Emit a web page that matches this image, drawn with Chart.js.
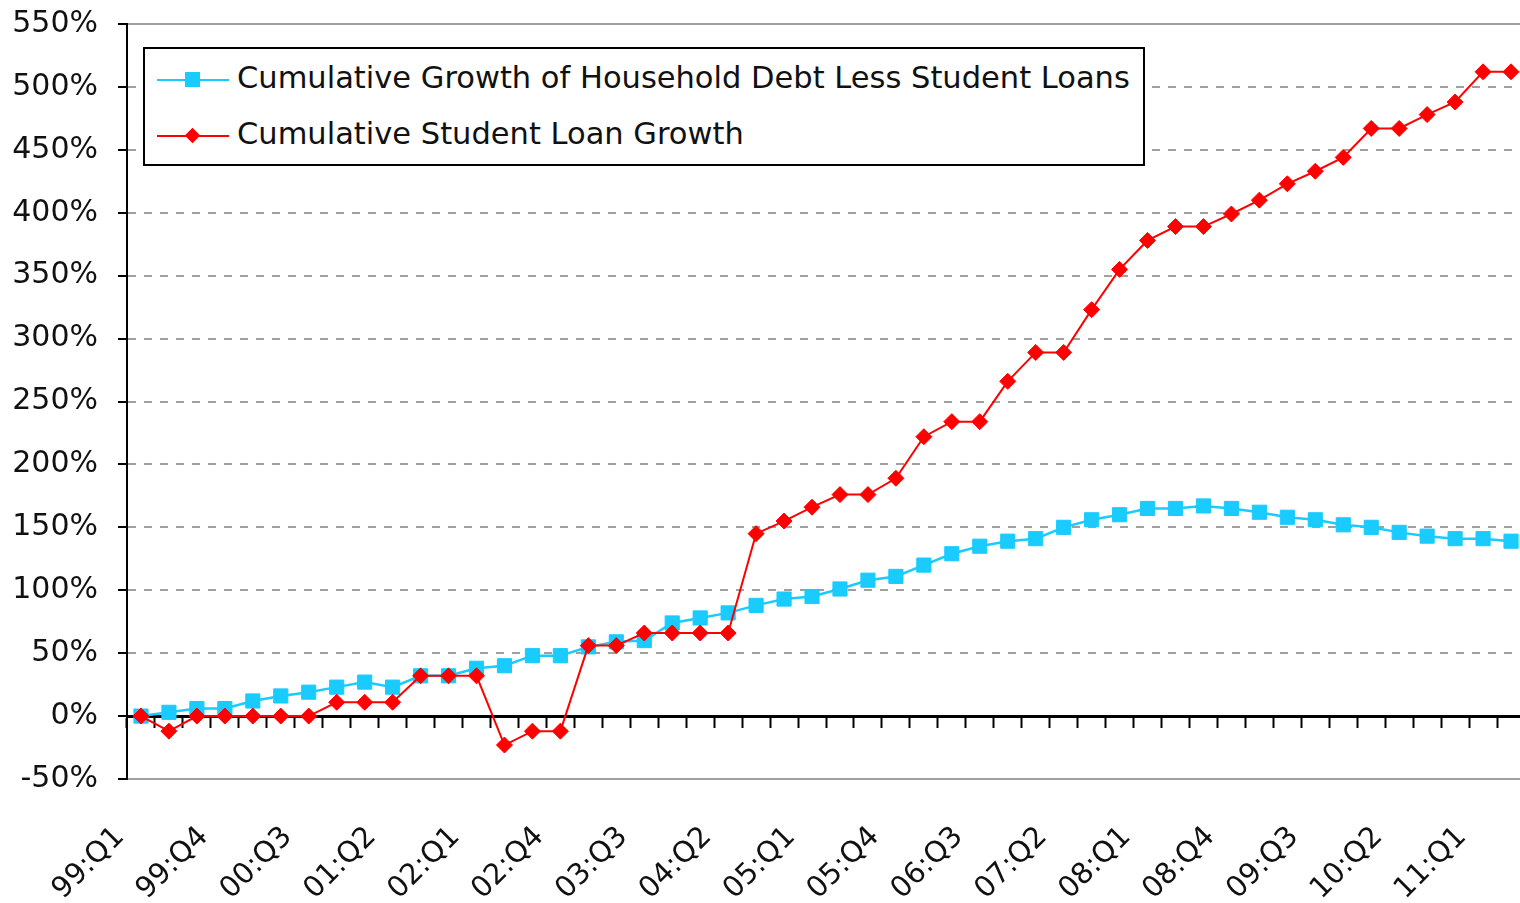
<!DOCTYPE html>
<html>
<head>
<meta charset="utf-8">
<title>Cumulative Student Loan Growth</title>
<script src="https://cdn.jsdelivr.net/npm/chart.js@4.4.1/dist/chart.umd.min.js"></script>
<style>
  html, body { margin: 0; padding: 0; background: #fff; overflow: hidden; }
  #wrap { position: relative; width: 1520px; height: 903px; overflow: hidden; }
  #chart { position: absolute; left: 0; top: 0; }
  #legend {
    position: absolute; left: 143px; top: 47px; width: 1002px; height: 119px;
    box-sizing: border-box; border: 2px solid #000; background: #fff;
    font-family: "DejaVu Sans", sans-serif; font-size: 30.5px; color: #111;
  }
  .row { position: absolute; left: 0; width: 100%; height: 40px; }
  .row .line { position: absolute; left: 12px; width: 72px; height: 2px; top: 19px; }
  .row .mark { position: absolute; }
  .row .txt { position: absolute; left: 92px; top: 0; line-height: 36px; white-space: nowrap; }
</style>
</head>
<body>
<div id="wrap">
  <canvas id="chart" width="1536" height="903"></canvas>
  <div id="legend">
    <div class="row" style="top: 11px;">
      <div class="line" style="background:#19cbff;"></div>
      <div class="mark" style="left:40px; top:12px; width:15px; height:15px; background:#19cbff;"></div>
      <div class="txt">Cumulative Growth of Household Debt Less Student Loans</div>
    </div>
    <div class="row" style="top: 67px;">
      <div class="line" style="background:#ff0000;"></div>
      <div class="mark" style="left:42px; top:14px; width:11px; height:11px; background:#ff0000; transform: rotate(45deg);"></div>
      <div class="txt">Cumulative Student Loan Growth</div>
    </div>
  </div>
</div>
<script>
// quarters 1999 Q1 .. 2011 Q2
const quarters = [
    '99:Q1', '99:Q2', '99:Q3', '99:Q4',
    '00:Q1', '00:Q2', '00:Q3', '00:Q4',
    '01:Q1', '01:Q2', '01:Q3', '01:Q4',
    '02:Q1', '02:Q2', '02:Q3', '02:Q4',
    '03:Q1', '03:Q2', '03:Q3', '03:Q4',
    '04:Q1', '04:Q2', '04:Q3', '04:Q4',
    '05:Q1', '05:Q2', '05:Q3', '05:Q4',
    '06:Q1', '06:Q2', '06:Q3', '06:Q4',
    '07:Q1', '07:Q2', '07:Q3', '07:Q4',
    '08:Q1', '08:Q2', '08:Q3', '08:Q4',
    '09:Q1', '09:Q2', '09:Q3', '09:Q4',
    '10:Q1', '10:Q2', '10:Q3', '10:Q4',
    '11:Q1', '11:Q2'
];

// cumulative growth, percent
const householdDebtLessStudent = [
    0, 3, 6, 6, 12, 16, 19, 23, 27, 23,
    32, 32, 38, 40, 48, 48, 55, 59, 60, 74,
    78, 82, 88, 93, 95, 101, 108, 111, 120, 129,
    135, 139, 141, 150, 156, 160, 165, 165, 167, 165,
    162, 158, 156, 152, 150, 146, 143, 141, 141, 139
];

const studentLoanGrowth = [
    0, -12, 0, 0, 0, 0, 0, 11, 11, 11,
    32, 32, 32, -23, -12, -12, 56, 56, 66, 66,
    66, 66, 145, 155, 166, 176, 176, 189, 222, 234,
    234, 266, 289, 289, 323, 355, 378, 389, 389, 399,
    410, 423, 433, 444, 467, 467, 478, 488, 512, 512
];

const yMin = -50;
const yMax = 550;
const yStep = 50;
const labelEvery = 3;

const CYAN = '#19cbff';
const RED = '#ff0000';
const GRID = '#a0a0a0';
const FONT = 'DejaVu Sans';

// keep the plot area exactly where the axes put it
const noPad = s => { s.paddingLeft = 0; s.paddingRight = 0; s.paddingTop = 0; s.paddingBottom = 0; };

const ctx = document.getElementById('chart').getContext('2d');

new Chart(ctx, {
    type: 'line',
    data: {
        labels: quarters,
        datasets: [
            {
                label: 'Cumulative Growth of Household Debt Less Student Loans',
                data: householdDebtLessStudent,
                borderColor: CYAN,
                backgroundColor: CYAN,
                borderWidth: 2.5,
                pointStyle: 'rect',
                pointRadius: 10,
                pointBorderWidth: 1,
                tension: 0,
                order: 1
            },
            {
                label: 'Cumulative Student Loan Growth',
                data: studentLoanGrowth,
                borderColor: RED,
                backgroundColor: RED,
                borderWidth: 2,
                pointStyle: 'rectRot',
                pointRadius: 8,
                pointBorderWidth: 1,
                tension: 0,
                order: 0
            }
        ]
    },
    options: {
        responsive: false,
        animation: false,
        layout: { padding: { top: 24, left: 0, right: 0, bottom: 0 } },
        plugins: {
            legend: { display: false },
            tooltip: { enabled: false }
        },
        scales: {
            x: {
                type: 'category',
                position: 'bottom',
                offset: true,
                grid: { display: true, drawOnChartArea: false, drawTicks: false },
                border: { display: true, color: GRID, width: 2 },
                ticks: {
                    autoSkip: false,
                    minRotation: 45,
                    maxRotation: 45,
                    padding: 41,
                    labelOffset: -21,
                    color: '#111',
                    font: { family: FONT, size: 29 },
                    callback: (v, i) => (i % labelEvery === 0 ? quarters[i] : '')
                },
                afterFit: s => { s.height = 124; noPad(s); }
            },
            xZero: {
                type: 'category',
                position: { y: 0 },
                offset: true,
                grid: {
                    offset: true,
                    drawOnChartArea: false,
                    drawTicks: true,
                    tickLength: 10,
                    tickColor: '#000',
                    tickWidth: 2
                },
                border: { color: '#000', width: 3 },
                ticks: { display: false },
                afterFit: noPad
            },
            xTop: {
                type: 'category',
                position: 'top',
                offset: true,
                grid: { drawOnChartArea: false, drawTicks: false },
                border: { color: GRID, width: 2 },
                ticks: { display: false },
                afterFit: s => { s.height = 0; noPad(s); }
            },
            y: {
                min: yMin,
                max: yMax,
                ticks: {
                    stepSize: yStep,
                    padding: 20,
                    color: '#111',
                    font: { family: FONT, size: 30 },
                    callback: v => v + '%'
                },
                grid: {
                    color: GRID,
                    lineWidth: 2,
                    tickLength: 9,
                    tickColor: '#000',
                    tickWidth: 2
                },
                border: { color: '#000', width: 2, dash: [8, 8] },
                afterFit: s => { s.width = 127; noPad(s); }
            }
        }
    }
});
</script>
</body>
</html>
